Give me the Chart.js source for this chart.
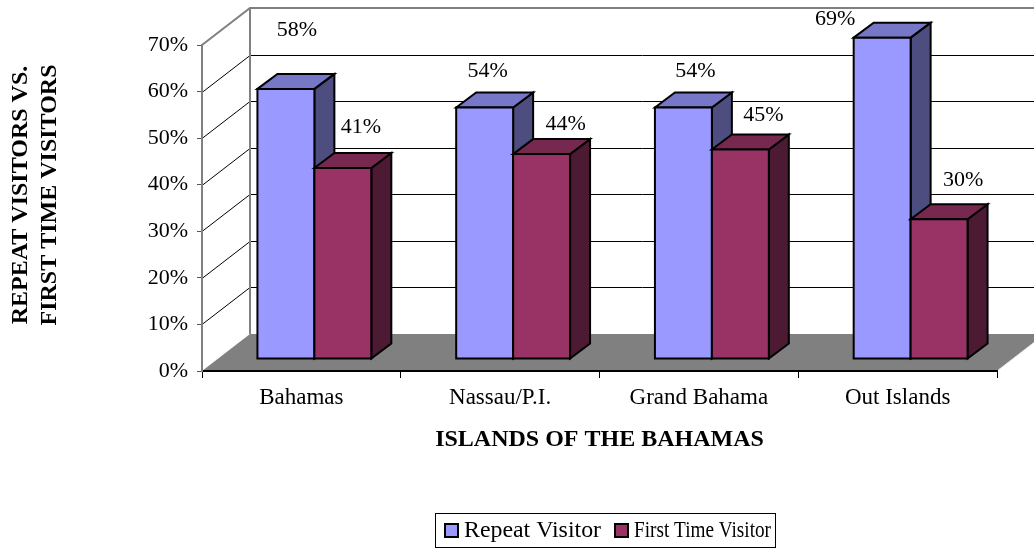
<!DOCTYPE html>
<html>
<head>
<meta charset="utf-8">
<script src="https://cdn.jsdelivr.net/npm/chart.js@4/dist/chart.umd.min.js"></script>
<style>
  html, body { margin: 0; padding: 0; background: #fff; }
</style>
</head>
<body>
<canvas id="visitors-chart" width="1034" height="548"></canvas>
<script>
var islands = ["Bahamas", "Nassau/P.I.", "Grand Bahama", "Out Islands"];
var repeatVisitor = [58, 54, 54, 69];
var firstTimeVisitor = [41, 44, 45, 30];
var yTicks = [0, 10, 20, 30, 40, 50, 60, 70];
var yTitle = ["REPEAT VISITORS VS.", "FIRST TIME VISITORS"];

// excel drops the 3d labels in odd spots, nudge them from the bar's front top (px)
var labelNudge = [
  [[11, -59], [3, -36], [12, -36], [-47, -18]],
  [[18, -41], [24, -30], [23, -34], [24, -39]]
];

var serif = "'Liberation Serif', 'Times New Roman', serif";
var wallDepth = { x: 48, y: -37 };
var barShift = { x: 13, y: -12 };
var barDepth = { x: 20, y: -15 };

var faces = [
  { front: "#9999ff", top: "#7777c7", side: "#4d4d80" },
  { front: "#993366", top: "#77284f", side: "#4d1a33" }
];

Chart.defaults.color = "#000";
Chart.defaults.font.family = serif;

function poly(ctx, pts, fill) {
  ctx.beginPath();
  ctx.moveTo(pts[0][0], pts[0][1]);
  for (var i = 1; i < pts.length; i++) ctx.lineTo(pts[i][0], pts[i][1]);
  ctx.closePath();
  if (fill) { ctx.fillStyle = fill; ctx.fill(); }
  ctx.stroke();
}

// walls, floor and back gridlines
var walls = {
  id: "walls",
  beforeDraw(chart) {
    var ctx = chart.ctx, a = chart.chartArea, ys = chart.scales.y;
    var dx = wallDepth.x, dy = wallDepth.y;
    ctx.save();
    ctx.fillStyle = "#808080";
    ctx.beginPath();
    ctx.moveTo(a.left, a.bottom);
    ctx.lineTo(a.right, a.bottom);
    ctx.lineTo(a.right + dx, a.bottom + dy);
    ctx.lineTo(a.left + dx, a.bottom + dy);
    ctx.closePath();
    ctx.fill();

    ctx.strokeStyle = "#e6e6e6";
    ctx.lineWidth = 1;
    ctx.beginPath();
    ctx.moveTo(a.right, a.bottom);
    ctx.lineTo(a.right + dx, a.bottom + dy);
    ctx.stroke();

    ctx.strokeStyle = "#000";
    yTicks.forEach(function (v) {
      if (v === 0 || v === 70) return;
      var py = Math.round(ys.getPixelForValue(v)) + 0.5;
      ctx.beginPath();
      ctx.moveTo(a.left, py);
      ctx.lineTo(a.left + dx, py + dy);
      ctx.lineTo(a.right + dx + 20, py + dy);
      ctx.stroke();
    });

    ctx.strokeStyle = "#808080";
    ctx.lineWidth = 2;
    ctx.beginPath();
    ctx.moveTo(a.left, a.top);
    ctx.lineTo(a.left + dx, a.top + dy);
    ctx.lineTo(a.right + dx + 20, a.top + dy);
    ctx.moveTo(a.left + dx, a.top + dy);
    ctx.lineTo(a.left + dx, a.bottom + dy);
    ctx.stroke();
    ctx.restore();
  }
};

var bars3d = {
  id: "bars3d",
  beforeDatasetDraw() { return false; },
  afterDatasetsDraw(chart) {
    var ctx = chart.ctx;
    var metas = [chart.getDatasetMeta(0), chart.getDatasetMeta(1)];
    var dx = barDepth.x, dy = barDepth.y;
    ctx.save();
    ctx.lineWidth = 2;
    ctx.strokeStyle = "#000";
    ctx.lineJoin = "miter";
    var labels = [];
    islands.forEach(function (_, i) {
      metas.forEach(function (meta, s) {
        var el = meta.data[i];
        var x1 = el.x - el.width / 2 + barShift.x;
        var x2 = el.x + el.width / 2 + barShift.x;
        var top = el.y + barShift.y;
        var bot = el.base + barShift.y;
        var f = faces[s];
        poly(ctx, [[x2, top], [x2 + dx, top + dy], [x2 + dx, bot + dy], [x2, bot]], f.side);
        poly(ctx, [[x1, top], [x1 + dx, top + dy], [x2 + dx, top + dy], [x2, top]], f.top);
        poly(ctx, [[x1, top], [x2, top], [x2, bot], [x1, bot]], f.front);
        var val = chart.data.datasets[s].data[i];
        var n = labelNudge[s][i];
        labels.push([val + "%", (x1 + x2) / 2 + n[0], top + n[1]]);
      });
    });
    ctx.fillStyle = "#000";
    ctx.font = "22px " + serif;
    ctx.textAlign = "center";
    ctx.textBaseline = "middle";
    labels.forEach(function (l) { ctx.fillText(l[0], l[1], l[2]); });
    ctx.restore();
  }
};

// rotated two line y title + framed legend, excel style
var extras = {
  id: "extras",
  afterDraw(chart) {
    var ctx = chart.ctx, a = chart.chartArea;
    ctx.save();
    ctx.fillStyle = "#000";
    ctx.font = "bold 24px " + serif;
    ctx.textAlign = "center";
    ctx.textBaseline = "middle";
    yTitle.forEach(function (line, i) {
      ctx.save();
      ctx.translate(21 + i * 29, 195);
      ctx.rotate(-Math.PI / 2);
      ctx.fillText(line, 0, 0);
      ctx.restore();
    });

    // legend frame is 340 wide, labels squeezed into equal slots like the original
    ctx.font = "24px " + serif;
    ctx.textAlign = "left";
    var sets = chart.data.datasets;
    var frameW = 340, h = 34, top = 513, cy = 530.5;
    var slot = (frameW - 9 - 4 - (sets.length - 1) * 13) / sets.length - 20;
    var left = Math.round((a.left + a.right) / 2 + 5 - frameW / 2);
    ctx.strokeStyle = "#000";
    ctx.lineWidth = 1;
    ctx.strokeRect(left + 0.5, top + 0.5, frameW, h);
    var x = left + 9;
    sets.forEach(function (d) {
      ctx.fillStyle = d.backgroundColor;
      ctx.lineWidth = 2;
      ctx.fillRect(x + 1, cy - 6.5, 13, 13);
      ctx.strokeRect(x + 1, cy - 6.5, 13, 13);
      ctx.fillStyle = "#000";
      ctx.fillText(d.label, x + 20, cy, slot);
      x += 20 + slot + 13;
    });
    ctx.restore();
  }
};

new Chart("visitors-chart", {
  type: "bar",
  data: {
    labels: islands,
    datasets: [{
      label: "Repeat Visitor",
      data: repeatVisitor,
      backgroundColor: faces[0].front,
      borderColor: "#000",
      borderWidth: 2
    }, {
      label: "First Time Visitor",
      data: firstTimeVisitor,
      backgroundColor: faces[1].front,
      borderColor: "#000",
      borderWidth: 2
    }]
  },
  options: {
    responsive: false,
    animation: false,
    devicePixelRatio: 1,
    layout: { padding: { top: 45, right: 37, bottom: 0, left: 0 } },
    datasets: { bar: { categoryPercentage: 0.573, barPercentage: 1 } },
    plugins: {
      tooltip: { enabled: false },
      legend: { display: false }
    },
    scales: {
      x: {
        grid: { drawOnChartArea: false, tickLength: 7, color: "#000", offset: true },
        border: { color: "#000", width: 2 },
        ticks: { font: { size: 23 }, padding: 6, maxRotation: 0, autoSkip: false },
        title: {
          display: true,
          text: "ISLANDS OF THE BAHAMAS",
          font: { size: 24, weight: "bold" },
          padding: { top: 0, bottom: 94 }
        },
        afterFit(scale) { scale.height = 177; }
      },
      y: {
        min: 0,
        max: 70,
        ticks: { stepSize: 10, font: { size: 22 }, padding: 9, callback: function (v) { return v + "%"; } },
        grid: { drawOnChartArea: false, tickLength: 5, color: "#555" },
        border: { color: "#808080", width: 2 },
        afterFit(scale) { scale.width = 202; }
      }
    }
  },
  plugins: [walls, bars3d, extras]
});
</script>
</body>
</html>
